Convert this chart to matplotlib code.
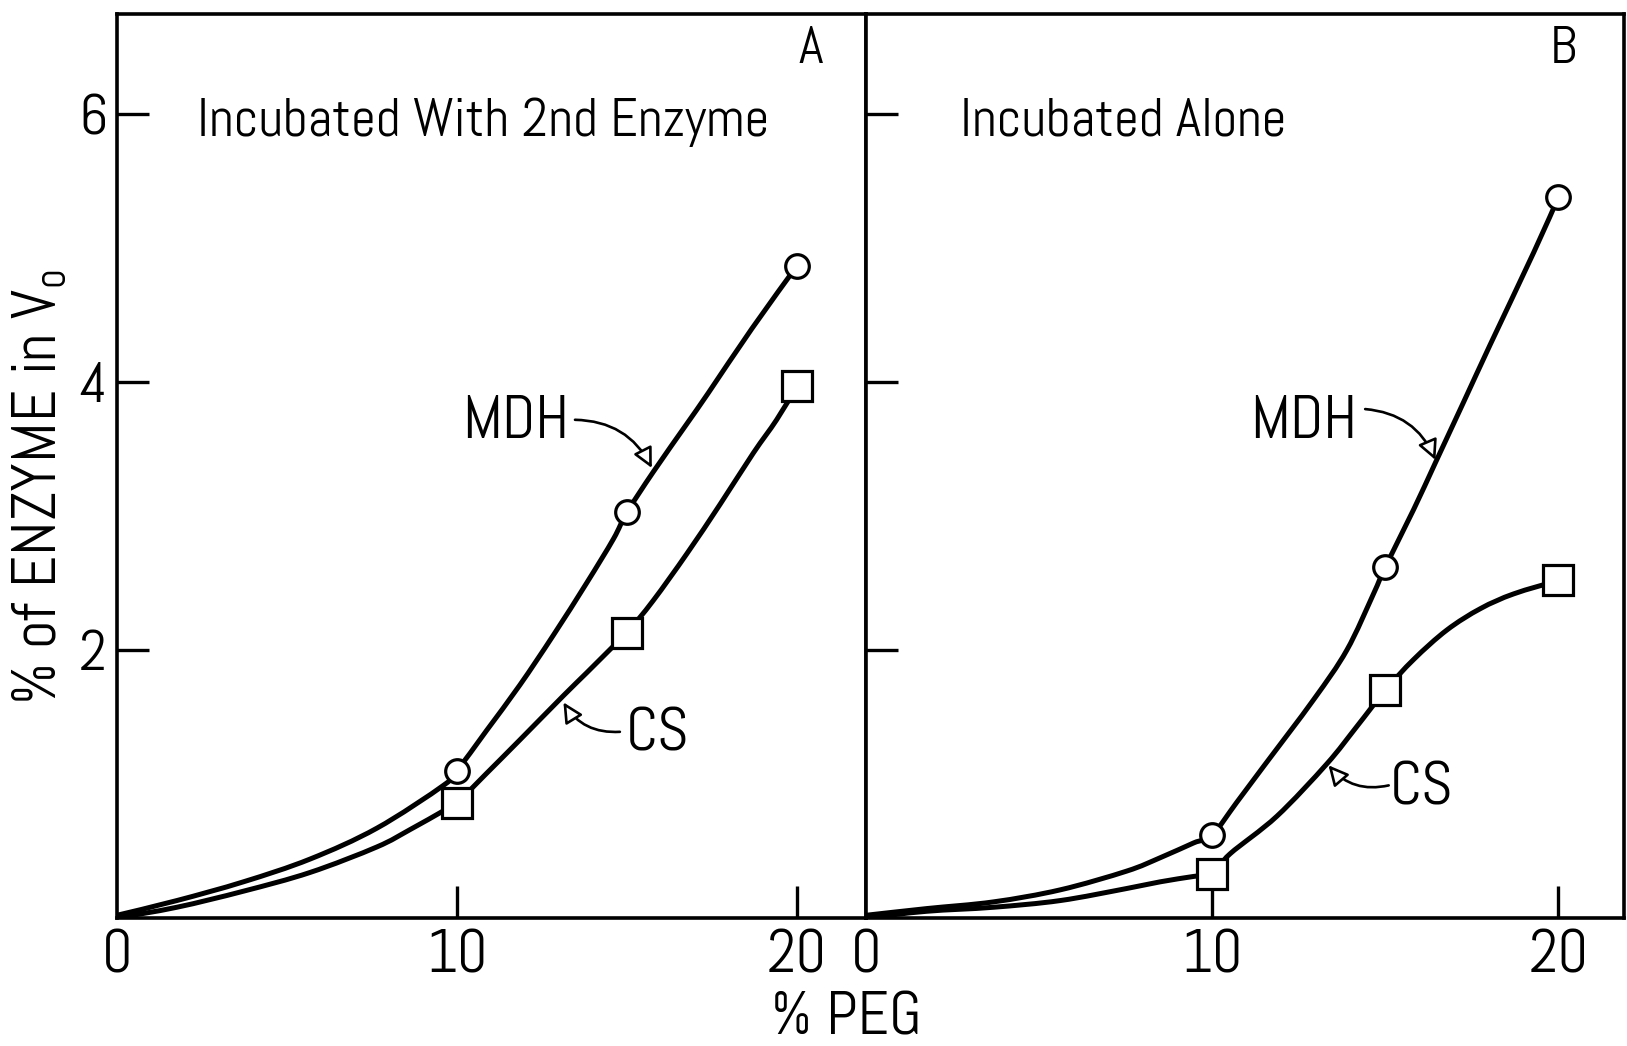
import matplotlib
matplotlib.use("Agg")
import matplotlib.pyplot as plt
from matplotlib.path import Path
from matplotlib.patches import PathPatch

plt.rcParams["font.family"] = ["Abel", "Roboto Condensed", "DejaVu Sans"]
plt.rcParams["mathtext.fontset"] = "custom"
plt.rcParams["mathtext.rm"] = "Abel"

# ---- measured points (% PEG vs % of enzyme in Vo) ----
peg = [10, 15, 20]

a_mdh = [1.10, 3.03, 4.87]
a_cs = [0.86, 2.13, 3.97]
b_mdh = [0.62, 2.62, 5.38]
b_cs = [0.33, 1.70, 2.52]

# ---- hand-drawn curves ----
a_mdh_curve_x = [0, 1.76, 3.72, 5.68, 7.64, 9.6, 10.0, 10.87, 11.85, 12.83, 13.81,
                 14.6, 15.0, 15.77, 16.76, 17.39, 18.67, 20.0]
a_mdh_curve_y = [0.02, 0.13, 0.27, 0.44, 0.67, 0.99, 1.10, 1.40, 1.74, 2.11, 2.50,
                 2.83, 3.03, 3.33, 3.69, 3.92, 4.40, 4.87]

a_cs_curve_x = [0, 1.76, 3.72, 5.68, 7.64, 8.62, 9.6, 10.0, 10.87, 11.85, 13.13,
                13.81, 14.6, 15.0, 15.77, 16.76, 17.74, 18.71, 19.4, 20.0]
a_cs_curve_y = [0.0, 0.08, 0.20, 0.34, 0.53, 0.66, 0.80, 0.86, 1.08, 1.33, 1.66,
                1.83, 2.03, 2.13, 2.37, 2.72, 3.09, 3.47, 3.72, 3.97]

b_mdh_curve_x = [0, 1.75, 3.68, 5.61, 7.53, 8.5, 9.46, 10.0, 10.7, 11.48, 12.93,
                 13.89, 14.66, 15.0, 15.82, 16.45, 17.26, 18.03, 19.29, 20.0]
b_mdh_curve_y = [0.02, 0.07, 0.12, 0.21, 0.35, 0.45, 0.56, 0.62, 0.86, 1.13, 1.63,
                 2.0, 2.42, 2.62, 3.05, 3.40, 3.85, 4.28, 4.97, 5.38]

b_cs_curve_x = [0, 1.75, 3.68, 5.61, 7.53, 8.5, 9.46, 10.0, 10.52, 11.87, 13.31,
                14.18, 15.0, 15.82, 16.78, 17.75, 18.71, 20.0]
b_cs_curve_y = [0.0, 0.05, 0.08, 0.13, 0.22, 0.27, 0.31, 0.33, 0.48, 0.76, 1.15,
                1.43, 1.70, 1.93, 2.15, 2.31, 2.42, 2.52]

x_ticks = [0, 10, 20]
y_ticks = [2, 4, 6]

LW = 3.6
TXT = 39
LBL = 44


def smooth_curve(xs, ys):
    """Catmull-Rom spline through the read points, as a bezier path."""
    pts = list(zip(xs, ys))
    verts = [pts[0]]
    codes = [Path.MOVETO]
    n = len(pts)
    for i in range(n - 1):
        p0 = pts[max(i - 1, 0)]
        p1 = pts[i]
        p2 = pts[i + 1]
        p3 = pts[min(i + 2, n - 1)]
        c1 = (p1[0] + (p2[0] - p0[0]) / 6, p1[1] + (p2[1] - p0[1]) / 6)
        c2 = (p2[0] - (p3[0] - p1[0]) / 6, p2[1] - (p3[1] - p1[1]) / 6)
        verts += [c1, c2, p2]
        codes += [Path.CURVE4] * 3
    return Path(verts, codes)


def style_axes(ax, xmax, show_ylabels):
    ax.set_xlim(0, xmax)
    ax.set_ylim(0, 6.75)
    for s in ax.spines.values():
        s.set_linewidth(2.6)
    ax.set_xticks(x_ticks)
    ax.set_xticklabels([str(t) for t in x_ticks], fontsize=43)
    ax.set_yticks(y_ticks)
    if show_ylabels:
        ax.set_yticklabels([str(t) for t in y_ticks], fontsize=41)
    else:
        ax.set_yticklabels([])
    ax.tick_params(direction="in", length=23, width=2.4, pad=8)
    ax.tick_params(axis="y", right=False, pad=7)
    # no tick mark at the origin, only the label
    ax.xaxis.get_major_ticks()[0].tick1line.set_visible(False)


def draw_series(ax, cx, cy, px, py, marker, ms):
    ax.add_patch(PathPatch(smooth_curve(cx, cy), fill=False, edgecolor="black",
                           lw=LW, capstyle="round", zorder=2))
    ax.plot(px, py, linestyle="none", marker=marker, ms=ms, mfc="white",
            mec="black", mew=2.3, zorder=3)


def label_arrow(ax, text, text_xy, ha, start, end):
    ax.text(*text_xy, text, fontsize=LBL, ha=ha, va="center")
    ax.annotate("", xy=end, xytext=start,
                arrowprops=dict(arrowstyle="-|>", lw=1.9, color="black",
                                fc="white", mutation_scale=30,
                                shrinkA=0, shrinkB=0,
                                connectionstyle="arc3,rad=-0.3"))


fig = plt.figure(figsize=(16.27, 10.46), dpi=100)
ax_a = fig.add_axes([0.0719, 0.1224, 0.4604, 0.8642])
ax_b = fig.add_axes([0.5323, 0.1224, 0.4659, 0.8642])

# panel A
style_axes(ax_a, 22.03, True)
draw_series(ax_a, a_mdh_curve_x, a_mdh_curve_y, peg, a_mdh, "o", 17)
draw_series(ax_a, a_cs_curve_x, a_cs_curve_y, peg, a_cs, "s", 21)
ax_a.text(2.35, 5.94, "Incubated With 2nd Enzyme", fontsize=TXT, va="center")
ax_a.text(20.4, 6.48, "A", fontsize=38, ha="center", va="center")
label_arrow(ax_a, "MDH", (13.3, 3.70), "right", (13.47, 3.72), (15.73, 3.36))
label_arrow(ax_a, "CS", (14.97, 1.37), "left", (14.79, 1.39), (13.13, 1.61))
ax_a.set_ylabel("% of ENZYME in V$_\\mathregular{o}$", fontsize=45)
ax_a.yaxis.set_label_coords(-0.064, 0.476)

# panel B
style_axes(ax_b, 21.9, False)
draw_series(ax_b, b_mdh_curve_x, b_mdh_curve_y, peg, b_mdh, "o", 17)
draw_series(ax_b, b_cs_curve_x, b_cs_curve_y, peg, b_cs, "s", 21)
ax_b.text(2.72, 5.94, "Incubated Alone", fontsize=TXT, va="center")
ax_b.text(20.14, 6.48, "B", fontsize=38, ha="center", va="center")
label_arrow(ax_b, "MDH", (14.19, 3.70), "right", (14.42, 3.80), (16.45, 3.42))
label_arrow(ax_b, "CS", (15.14, 0.96), "left", (15.1, 0.99), (13.36, 1.14))

fig.text(0.52, 0.011, "% PEG", fontsize=44, ha="center", va="baseline")

fig.savefig("out.png", dpi=100, facecolor="white")
